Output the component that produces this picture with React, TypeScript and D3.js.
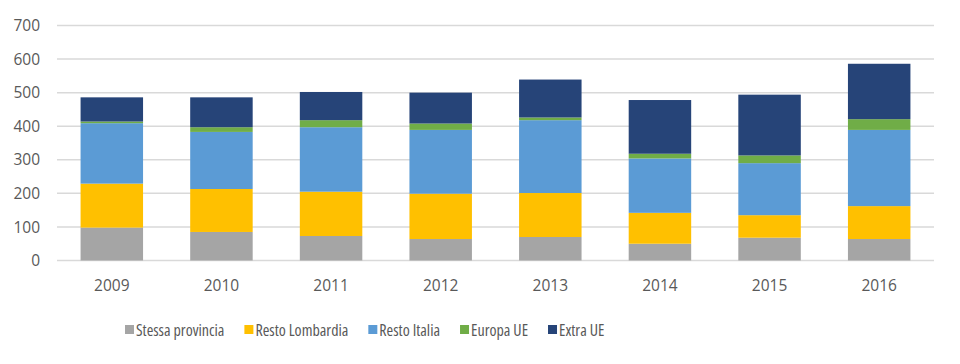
import * as d3 from 'd3'
import { useEffect, useRef } from 'react'

// years on the x axis
const years = ['2009', '2010', '2011', '2012', '2013', '2014', '2015', '2016']

// series, bottom to top
const seriesNames = ['Stessa provincia', 'Resto Lombardia', 'Resto Italia', 'Europa UE', 'Extra UE']
const stessaProvincia = [98, 85, 73, 64, 70, 50, 68, 64]
const restoLombardia = [131, 128, 132, 135, 131, 92, 67, 98]
const restoItalia = [180, 170, 192, 190, 217, 162, 155, 227]
const europaUE = [5, 14, 21, 19, 8, 14, 23, 32]
const extraUE = [72, 89, 84, 92, 113, 160, 181, 165]
const colors = ['#A5A5A5', '#FFC000', '#5B9BD5', '#70AD47', '#264478']

const yTicks = [0, 100, 200, 300, 400, 500, 600, 700]

const FONT = "'Open Sans', sans-serif"

const App = () => {
  const svgRef = useRef<SVGSVGElement>(null)

  useEffect(() => {
    const width = 960
    const height = 364
    const margin = { top: 25.5, right: 26, bottom: 103.5, left: 57 }

    const svg = d3.select(svgRef.current)
    svg.selectAll('*').remove()

    const allSeries = [stessaProvincia, restoLombardia, restoItalia, europaUE, extraUE]
    const rows = years.map((y, i) => {
      const row: any = { year: y }
      seriesNames.forEach((s, k) => (row[s] = allSeries[k][i]))
      return row
    })
    const stacked = d3.stack().keys(seriesNames)(rows)

    const x = d3
      .scaleBand()
      .domain(years)
      .range([margin.left, width - margin.right])
      .paddingInner(0.43)
      .paddingOuter(0.215)

    const y = d3
      .scaleLinear()
      .domain([0, 700])
      .range([height - margin.bottom, margin.top])

    // gridlines
    svg
      .append('g')
      .selectAll('line')
      .data(yTicks)
      .enter()
      .append('line')
      .attr('x1', margin.left)
      .attr('x2', width - margin.right)
      .attr('y1', (d) => y(d))
      .attr('y2', (d) => y(d))
      .attr('stroke', '#D9D9D9')
      .attr('stroke-width', 1.5)

    // y labels
    svg
      .append('g')
      .selectAll('text')
      .data(yTicks)
      .enter()
      .append('text')
      .attr('x', 40)
      .attr('y', (d) => y(d))
      .attr('dy', '0.36em')
      .attr('text-anchor', 'end')
      .attr('fill', '#595959')
      .style('font-family', FONT)
      .style('font-size', '15.5px')
      .text((d) => d)

    // bars
    svg
      .append('g')
      .selectAll('g')
      .data(stacked)
      .enter()
      .append('g')
      .attr('fill', (d, i) => colors[i])
      .selectAll('rect')
      .data((d) => d)
      .enter()
      .append('rect')
      .attr('x', (d: any) => x(d.data.year)!)
      .attr('width', x.bandwidth())
      .attr('y', (d) => y(d[1]))
      .attr('height', (d) => y(d[0]) - y(d[1]))

    // x labels
    svg
      .append('g')
      .selectAll('text')
      .data(years)
      .enter()
      .append('text')
      .attr('x', (d) => x(d)! + x.bandwidth() / 2)
      .attr('y', 285)
      .attr('dy', '0.36em')
      .attr('text-anchor', 'middle')
      .attr('fill', '#595959')
      .style('font-family', FONT)
      .style('font-size', '15.5px')
      .text((d) => d)

    // legend
    const legend = svg.append('g')
    let cx = 125
    seriesNames.forEach((name, i) => {
      legend
        .append('rect')
        .attr('x', cx)
        .attr('y', 325)
        .attr('width', 9)
        .attr('height', 9)
        .attr('fill', colors[i])
      const t = legend
        .append('text')
        .attr('x', cx + 11)
        .attr('y', 330)
        .attr('dy', '0.36em')
        .attr('fill', '#595959')
        .style('font-family', FONT)
        .style('font-stretch', '75%')
        .style('font-size', '16px')
        .text(name)
      const w = (t.node() as SVGTextElement).getComputedTextLength()
      cx += 11 + w + 20
    })
  }, [])

  return <svg ref={svgRef} width={960} height={364} style={{ display: 'block', position: 'absolute', left: 0, top: 0 }} />
}

export default App
